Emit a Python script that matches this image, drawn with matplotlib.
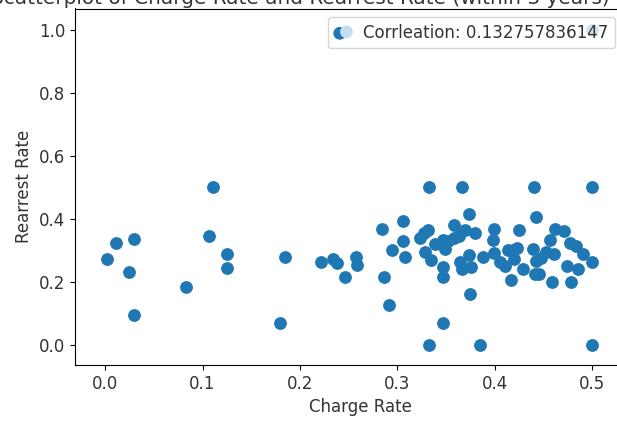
import matplotlib
matplotlib.use("Agg")
import matplotlib.pyplot as plt

# charge rate vs rearrest rate
charge_rate = [0.002, 0.011, 0.030, 0.024, 0.030, 0.083, 0.111, 0.107, 0.125, 0.125,
               0.185, 0.180, 0.222, 0.234, 0.238, 0.246, 0.258, 0.259,
               0.284, 0.286, 0.292, 0.295, 0.306, 0.306, 0.308,
               0.323, 0.327, 0.332, 0.333, 0.333, 0.329, 0.335, 0.339, 0.345, 0.349,
               0.347, 0.352, 0.358, 0.358, 0.363, 0.367, 0.370, 0.374, 0.380,
               0.347, 0.347, 0.347, 0.364, 0.367, 0.374, 0.376, 0.375, 0.385, 0.388,
               0.399, 0.398, 0.399, 0.406, 0.411, 0.417, 0.414, 0.419, 0.423, 0.425,
               0.420, 0.429, 0.440, 0.443, 0.439, 0.443, 0.441, 0.446, 0.448, 0.453,
               0.457, 0.459, 0.462, 0.471, 0.461, 0.474, 0.477, 0.484, 0.479, 0.486,
               0.491, 0.500, 0.500, 0.500, 0.500]
rearrest_rate = [0.272, 0.325, 0.335, 0.231, 0.094, 0.184, 0.500, 0.346, 0.289, 0.245,
                 0.278, 0.069, 0.262, 0.274, 0.259, 0.217, 0.280, 0.254,
                 0.367, 0.215, 0.128, 0.300, 0.394, 0.331, 0.278,
                 0.338, 0.354, 0.366, 0.500, 0.000, 0.296, 0.271, 0.321, 0.320, 0.305,
                 0.333, 0.330, 0.338, 0.380, 0.347, 0.500, 0.364, 0.416, 0.357,
                 0.248, 0.215, 0.069, 0.264, 0.241, 0.286, 0.247, 0.163, 0.000, 0.278,
                 0.367, 0.332, 0.293, 0.264, 0.250, 0.205, 0.302, 0.300, 0.307, 0.366,
                 0.272, 0.241, 0.500, 0.405, 0.304, 0.266, 0.226, 0.226, 0.275, 0.296,
                 0.333, 0.201, 0.367, 0.362, 0.289, 0.252, 0.323, 0.313, 0.201, 0.242,
                 0.288, 0.263, 0.500, 0.000, 1.000]
corr_label = "Corrleation: 0.132757836147"
title = "Scatterplot of Charge Rate and Rearrest Rate (within 3 years)"

plt.rcParams['font.size'] = 12
plt.rcParams['text.color'] = '#333333'
plt.rcParams['xtick.labelcolor'] = '#333333'
plt.rcParams['ytick.labelcolor'] = '#333333'
plt.rcParams['axes.labelcolor'] = '#333333'

fig = plt.figure(figsize=(6.17, 4.21), dpi=100)
# the right edge of the axes lies past the figure, as in the cropped original
ax = fig.add_axes([75 / 617, 56 / 421, 570 / 617, 356.5 / 421])

ax.scatter(charge_rate, rearrest_rate, s=85, color='#1f77b4', linewidths=0, label=corr_label)

ax.set_xlim(-0.031, 0.5545)
ax.set_ylim(-0.0635, 1.068)
ax.set_xticks([0.0, 0.1, 0.2, 0.3, 0.4, 0.5])
ax.set_yticks([0.0, 0.2, 0.4, 0.6, 0.8, 1.0])
ax.set_xlabel("Charge Rate")
ax.set_ylabel("Rearrest Rate")

# title sits mostly above the cropped top edge, only its lower part shows
fig.text(-9 / 617, 1 - 4 / 421, title, fontsize=14.4, ha='left', va='baseline')

leg = ax.legend(loc='upper right', scatterpoints=2, handlelength=1.0,
                handletextpad=0.7, borderaxespad=0,
                bbox_to_anchor=(615 / 617, 1 - 17 / 421), bbox_transform=fig.transFigure)
leg.legend_handles[0].set_facecolors(['#1f77b4', '#c6dcef'])

fig.savefig("out.png", dpi=100)
